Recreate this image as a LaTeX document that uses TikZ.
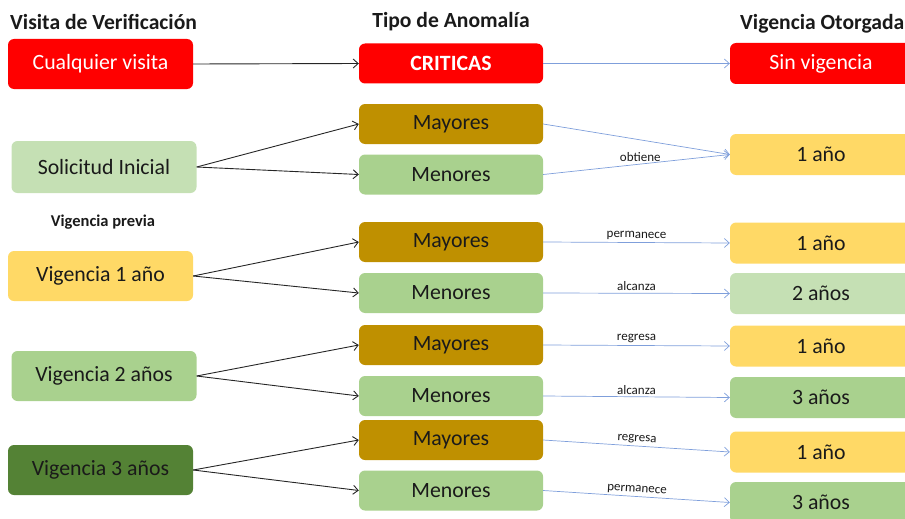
\documentclass[tikz,border=0pt]{standalone}
\usepackage{fontspec}
\setmainfont{Carlito}
\usetikzlibrary{arrows.meta}
\definecolor{cred}{HTML}{FF0000}
\definecolor{cgold}{HTML}{BF9000}
\definecolor{cgreen}{HTML}{A9D18E}
\definecolor{clight}{HTML}{C5E0B4}
\definecolor{cyellow}{HTML}{FFD966}
\definecolor{cdark}{HTML}{548235}
\definecolor{cblue}{HTML}{7F9FDB}
\definecolor{ctext}{HTML}{1A1A1A}
\tikzset{
  box/.style={rounded corners=6pt, inner sep=0pt, font=\fontsize{21.8}{24}\selectfont, text=ctext, anchor=center},
  lbox/.style={box, minimum width=185pt, minimum height=50pt},
  mbox/.style={box, minimum width=184pt, minimum height=40pt},
  rbox/.style={box, minimum width=182pt, minimum height=41pt},
  head/.style={font=\fontsize{21.6}{24}\selectfont\bfseries, text=ctext, inner sep=0pt},
  blk/.style={draw=black!85, line width=0.9pt, -{Straight Barb[length=5pt,width=9pt]}},
  blu/.style={draw=cblue, line width=0.7pt, -{Straight Barb[length=5pt,width=9pt]}},
  lbl/.style={font=\fontsize{13}{15}\selectfont, text=ctext, inner sep=2pt, above, sloped, midway}
}
\begin{document}
\begin{tikzpicture}[x=1pt,y=-1pt]
\useasboundingbox (0,0) rectangle (905,519);
\clip (0,0) rectangle (905,519);
% headers
\node[head, anchor=west] (h1) at (10,22) {Visita de Verificación};
\node[head] (h2) at (451,22) {Tipo de Anomalía};
\node[head, anchor=west] (h3) at (740,24) {Vigencia Otorgada};
\node[font=\fontsize{16.5}{18}\selectfont\bfseries, text=ctext, inner sep=0pt] (h4) at (103,222) {Vigencia previa};
% left column
\node[lbox, fill=cred, text=white] (l1) at (100.5,64) {Cualquier visita};
\node[lbox, fill=clight, minimum height=52pt] (l2) at (104,167) {Solicitud Inicial};
\node[lbox, fill=cyellow] (l3) at (100.5,276) {Vigencia 1 año};
\node[lbox, fill=cgreen] (l4) at (104,376) {Vigencia 2 años};
\node[lbox, fill=cdark] (l5) at (100.5,470) {Vigencia 3 años};
% middle column
\node[mbox, fill=cred, text=white, font=\fontsize{21.8}{24}\selectfont\bfseries] (c0) at (451,63.5) {CRITICAS};
\node[mbox, fill=cgold] (ma1) at (451,124) {Mayores};
\node[mbox, fill=cgreen] (me1) at (451,174.5) {Menores};
\node[mbox, fill=cgold] (ma2) at (451,242) {Mayores};
\node[mbox, fill=cgreen] (me2) at (451,293) {Menores};
\node[mbox, fill=cgold] (ma3) at (451,345) {Mayores};
\node[mbox, fill=cgreen] (me3) at (451,396) {Menores};
\node[mbox, fill=cgold] (ma4) at (451,440) {Mayores};
\node[mbox, fill=cgreen] (me4) at (451,490.5) {Menores};
% right column
\node[rbox, fill=cred, text=white] (r0) at (821,63.5) {Sin vigencia};
\node[rbox, fill=cyellow] (r1) at (821,154.5) {1 año};
\node[rbox, fill=cyellow] (r2) at (821,243) {1 año};
\node[rbox, fill=clight] (r3) at (821,293.5) {2 años};
\node[rbox, fill=cyellow] (r4) at (821,346) {1 año};
\node[rbox, fill=cgreen] (r5) at (821,397.5) {3 años};
\node[rbox, fill=cyellow] (r6) at (821,452) {1 año};
\node[rbox, fill=cgreen] (r7) at (821,502.5) {3 años};
% black connectors
\draw[blk] (l1.east) -- (c0.west);
\draw[blk] (l2.east) -- (ma1.west);
\draw[blk] (l2.east) -- (me1.west);
\draw[blk] (l3.east) -- (ma2.west);
\draw[blk] (l3.east) -- (me2.west);
\draw[blk] (l4.east) -- (ma3.west);
\draw[blk] (l4.east) -- (me3.west);
\draw[blk] (l5.east) -- (ma4.west);
\draw[blk] (l5.east) -- (me4.west);
% blue connectors
\draw[blu] (c0.east) -- (r0.west);
\draw[blu] (ma1.east) -- (r1.west);
\draw[blu] (me1.east) -- node[font=\fontsize{13}{15}\selectfont, text=ctext, inner sep=2pt, above, pos=0.52] {obtiene} (r1.west);
\draw[blu] (ma2.east) -- node[lbl] {permanece} (r2.west);
\draw[blu] (me2.east) -- node[lbl] {alcanza} (r3.west);
\draw[blu] (ma3.east) -- node[lbl] {regresa} (r4.west);
\draw[blu] (me3.east) -- node[lbl] {alcanza} (r5.west);
\draw[blu] (ma4.east) -- node[lbl] {regresa} (r6.west);
\draw[blu] (me4.east) -- node[lbl] {permanece} (r7.west);
\end{tikzpicture}
\end{document}
